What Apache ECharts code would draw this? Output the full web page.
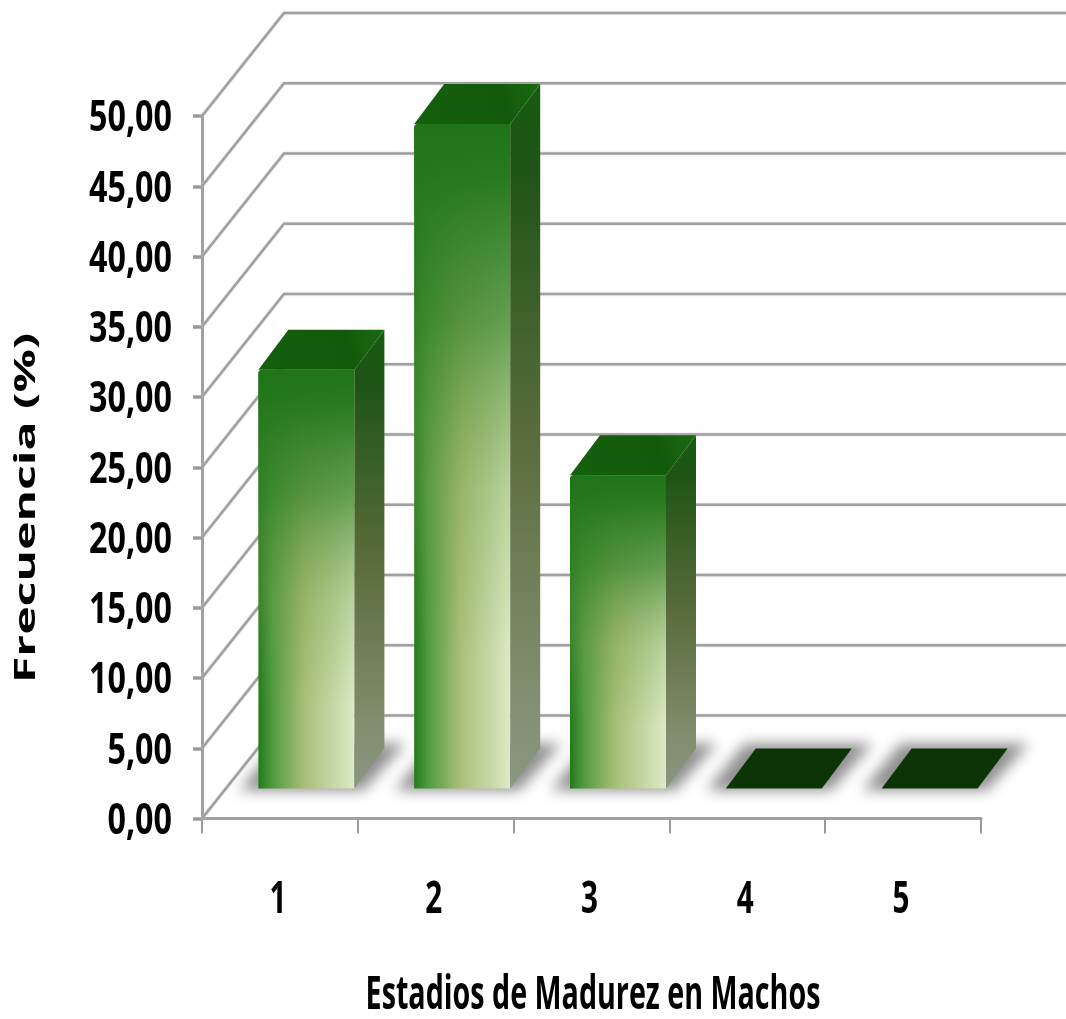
<!DOCTYPE html>
<html>
<head>
<meta charset="utf-8">
<style>html,body{margin:0;padding:0;background:#fff}#chart{width:1066px;height:1019px}</style>
<script src="https://cdn.jsdelivr.net/npm/echarts@6/dist/echarts.min.js"></script>
</head>
<body>
<div id="chart"></div>
<script>
// Estadios de madurez: frecuencia relativa por estadio
var categories = ['1', '2', '3', '4', '5'];
var frequencies = [29.8, 47.3, 22.3, 0, 0];
var wallTicks = [0, 5, 10, 15, 20, 25, 30, 35, 40, 45, 50];

var xTitle = 'Estadios de Madurez en Machos';
var yTitle = 'Frecuencia (%)';

// Pseudo-3D projection, in pixels
var WALL_DX = 82, WALL_DY = -103, WALL_END = 1066;
var BAR_SHIFT_X = 26.5, BAR_LIFT = 30, BAR_W = 96, DEPTH_X = 30, DEPTH_Y = -40;
var OFFSCREEN = 3000; // casts a soft floor shadow with no visible source shape

var GRID_COLOR = '#a0a0a0';
var TEXT_FONT = '"Open Sans"';
var chart = echarts.init(document.getElementById('chart'), null, { renderer: 'canvas' });

function linear(x0, y0, x1, y1, stops) {
  return new echarts.graphic.LinearGradient(x0, y0, x1, y1, stops.map(function (s) {
    return { offset: s[0], color: s[1] };
  }));
}

function renderWall(params, api) {
  var p = api.coord([0, api.value(0)]);
  var x0 = api.coord([0, 0])[0] - api.size([1, 0])[0] / 2;
  var bx = x0 + WALL_DX, by = p[1] + WALL_DY;
  return {
    type: 'polyline',
    silent: true,
    shape: { points: [[x0, p[1]], [bx, by], [WALL_END, by]] },
    style: { fill: null, stroke: GRID_COLOR, lineWidth: 2.6, shadowBlur: 2, shadowColor: '#cfcfcf' }
  };
}

// value tick labels, squeezed horizontally like the condensed face of the axis
function renderValueLabel(params, api) {
  var v = api.value(0);
  var p = api.coord([0, v]);
  var x0 = p[0] - api.size([1, 0])[0] / 2;
  return {
    type: 'text',
    silent: true,
    x: x0 - 30,
    y: p[1] + 3,
    scaleX: 0.75,
    style: {
      text: v.toFixed(2).replace('.', ','),
      fill: '#000',
      font: 'bold 43px ' + TEXT_FONT,
      textAlign: 'right',
      textVerticalAlign: 'middle'
    }
  };
}

function renderCategoryLabel(params, api) {
  var p = api.coord([api.value(0), 0]);
  return {
    type: 'text',
    silent: true,
    x: p[0] - 2,
    y: p[1] + 82,
    scaleX: 0.66,
    style: {
      text: categories[params.dataIndex],
      fill: '#000',
      font: 'bold 45px ' + TEXT_FONT,
      textAlign: 'center',
      textVerticalAlign: 'middle'
    }
  };
}

function barGeometry(api) {
  var i = api.value(0);
  var base = api.coord([i, 0]);
  var top = api.coord([i, api.value(1)]);
  var x = base[0] + BAR_SHIFT_X - BAR_W / 2;
  return { x: x, r: x + BAR_W, b: base[1] - BAR_LIFT, t: top[1] - BAR_LIFT };
}

function renderFloorShadow(params, api) {
  var g = barGeometry(api);
  var pad = 19;
  return {
    type: 'polygon',
    silent: true,
    shape: { points: [
      [g.x - pad - OFFSCREEN, g.b + 2],
      [g.r + pad - 10 - OFFSCREEN, g.b + 2],
      [g.r + DEPTH_X + pad + 2 - OFFSCREEN, g.b + DEPTH_Y - 5],
      [g.x + DEPTH_X - pad + 8 - OFFSCREEN, g.b + DEPTH_Y - 5]
    ] },
    style: { fill: '#777', shadowBlur: 14, shadowOffsetX: OFFSCREEN, shadowColor: '#8f8f8f' }
  };
}

function renderBar(params, api) {
  var g = barGeometry(api);
  var v = api.value(1);
  var kids = [];
  if (v > 0) {
    var h = g.b - g.t;
    // front face: light sweep from left to right, darkened toward the top
    kids.push({
      type: 'rect',
      shape: { x: g.x, y: g.t, width: BAR_W, height: h, r: [4, 0, 0, 0] },
      style: { fill: linear(0, 0, 1, 0, [[0, '#23791c'], [0.14, '#4f9a3e'], [0.48, '#a9bf78'], [0.8, '#c6d9a8'], [1, '#dcebc4']]) }
    });
    kids.push({
      type: 'rect',
      shape: { x: g.x, y: g.t, width: BAR_W, height: h, r: [4, 0, 0, 0] },
      style: { fill: linear(0, 0, 0, 1, [[0, 'rgba(31,116,24,1)'], [0.08, 'rgba(36,120,28,0.98)'], [0.3, 'rgba(55,130,40,0.72)'], [0.55, 'rgba(110,155,65,0.3)'], [0.8, 'rgba(110,155,65,0)'], [1, 'rgba(110,155,65,0)']]) }
    });
    // right side face
    kids.push({
      type: 'polygon',
      shape: { points: [[g.r, g.t], [g.r + DEPTH_X, g.t + DEPTH_Y], [g.r + DEPTH_X, g.b + DEPTH_Y], [g.r, g.b]] },
      style: { fill: linear(0, 0, 0, 1, [[0, '#175c10'], [0.12, '#1f5416'], [0.5, '#5a6c3c'], [0.85, '#818d6e'], [1, '#8b9680']]) }
    });
  }
  // top face, the only face left when the value is zero
  kids.push({
    type: 'polygon',
    shape: { points: [[g.x, g.t], [g.r, g.t], [g.r + DEPTH_X, g.t + DEPTH_Y], [g.x + DEPTH_X, g.t + DEPTH_Y]] },
    style: {
      fill: v > 0
        ? linear(0, 1, 1, 0, [[0, '#14600d'], [0.7, '#125a0b'], [1, '#1c6b14']])
        : '#0b3505'
    }
  });
  return { type: 'group', children: kids };
}

var barData = categories.map(function (c, i) { return [i, frequencies[i]]; });

chart.setOption({
  animation: false,
  backgroundColor: '#ffffff',
  grid: { left: 202, top: 116, width: 779, height: 702.5, outerBoundsMode: 'none' },
  xAxis: {
    type: 'category',
    data: categories,
    boundaryGap: true,
    axisLine: { lineStyle: { color: GRID_COLOR, width: 3 } },
    axisTick: { show: true, alignWithLabel: false, length: 15, lineStyle: { color: '#9a9a9a', width: 2 } },
    axisLabel: { show: false }
  },
  yAxis: {
    type: 'value',
    min: 0, max: 50, interval: 5,
    splitLine: { show: false },
    axisLine: { show: true, lineStyle: { color: GRID_COLOR, width: 3 } },
    axisTick: { show: true, length: 9, lineStyle: { color: '#9a9a9a', width: 3.5 } },
    axisLabel: { show: false }
  },
  graphic: [{
    type: 'text',
    x: 27, y: 508,
    rotation: Math.PI / 2,
    scaleX: 1.66,
    silent: true,
    style: {
      text: yTitle, fill: '#000', font: 'bold 29px ' + TEXT_FONT,
      textAlign: 'center', textVerticalAlign: 'middle'
    }
  }, {
    type: 'text',
    x: 593, y: 996,
    scaleX: 0.61,
    silent: true,
    style: {
      text: xTitle, fill: '#000', font: 'bold 47px ' + TEXT_FONT,
      textAlign: 'center', textVerticalAlign: 'middle'
    }
  }, {
    // the caption is cut flat along its baseline
    type: 'rect',
    shape: { x: 0, y: 1010, width: 1066, height: 9 },
    style: { fill: '#fff' },
    silent: true,
    z: 100
  }],
  series: [
    {
      name: 'Pared', type: 'custom', coordinateSystem: 'cartesian2d', silent: true, z: 1,
      renderItem: renderWall, clip: false,
      data: wallTicks.map(function (t) { return [t]; }),
      encode: { y: 0 }
    },
    {
      name: 'Etiquetas Y', type: 'custom', coordinateSystem: 'cartesian2d', silent: true, z: 1,
      renderItem: renderValueLabel, clip: false,
      data: wallTicks.map(function (t) { return [t]; }),
      encode: { y: 0 }
    },
    {
      name: 'Etiquetas X', type: 'custom', coordinateSystem: 'cartesian2d', silent: true, z: 1,
      renderItem: renderCategoryLabel, clip: false,
      data: barData, encode: { x: 0, y: 1 }
    },
    {
      name: 'Sombra', type: 'custom', coordinateSystem: 'cartesian2d', silent: true, z: 2,
      renderItem: renderFloorShadow, clip: false,
      data: barData, encode: { x: 0, y: 1 }
    },
    {
      name: 'Frecuencia', type: 'custom', coordinateSystem: 'cartesian2d', z: 3,
      renderItem: renderBar, clip: false,
      data: barData, encode: { x: 0, y: 1 }
    }
  ]
});
</script>
</body>
</html>
